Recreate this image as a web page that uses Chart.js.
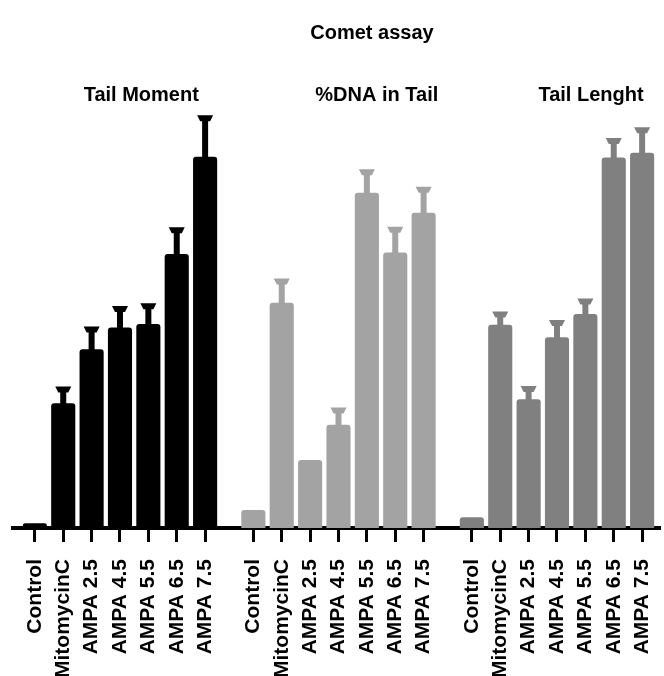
<!DOCTYPE html>
<html>
<head>
<meta charset="utf-8">
<script src="https://cdn.jsdelivr.net/npm/chart.js@4.4.1/dist/chart.umd.min.js"></script>
<style>
  html, body { margin: 0; padding: 0; background: #fff; }
  #wrap { width: 664px; height: 676px; }
</style>
</head>
<body>
<div id="wrap"><canvas id="myChart"></canvas></div>
<script>
const mainTitle = 'Comet assay';
const groupNames = ['Tail Moment', '%DNA in Tail', 'Tail Lenght'];
const treatments = ['Control', 'MitomycinC', 'AMPA 2.5', 'AMPA 4.5', 'AMPA 5.5', 'AMPA 6.5', 'AMPA 7.5'];

const tailMoment    = [1.2, 31.2, 44.7, 50.1, 51.0, 68.5, 92.8];
const tailMomentErr = [0, 4.2, 5.7, 5.4, 5.2, 6.7, 10.4];
const dnaInTail     = [4.5, 56.3, 17.0, 25.8, 83.8, 68.9, 78.8];
const dnaInTailErr  = [0, 6.1, 0, 4.3, 5.9, 6.4, 6.5];
const tailLength    = [2.7, 50.8, 32.2, 47.7, 53.5, 92.6, 93.8];
const tailLengthErr = [0, 3.3, 3.3, 4.3, 3.9, 4.9, 6.4];

const colors = ['#000000', '#a3a3a3', '#808080'];

// groups sit on one linear axis, a little gap between them
const groupStride = 7.7;
const xPos = (g, i) => g * groupStride + i;
const positions = [];
const tickLabels = [];
for (let g = 0; g < 3; g++) {
  treatments.forEach((t, i) => { positions.push(xPos(g, i)); tickLabels.push(t); });
}

function makeSet(g, values, errors) {
  return {
    label: groupNames[g],
    data: values.map((v, i) => ({ x: xPos(g, i), y: v })),
    errors: errors,
    backgroundColor: colors[g],
    borderRadius: 3,
    borderSkipped: 'start'
  };
}

const errorBars = {
  id: 'errorBars',
  afterDatasetsDraw(chart) {
    const ctx = chart.ctx;
    const y = chart.scales.y;
    chart.data.datasets.forEach((ds, d) => {
      chart.getDatasetMeta(d).data.forEach((bar, i) => {
        const err = ds.errors[i];
        if (!err) return;
        const top = y.getPixelForValue(ds.data[i].y + err);
        ctx.save();
        ctx.fillStyle = ds.backgroundColor;
        ctx.fillRect(bar.x - 3, top + 3, 6, bar.y - top - 2);
        ctx.beginPath();
        ctx.moveTo(bar.x - 8, top);
        ctx.lineTo(bar.x + 8, top);
        ctx.lineTo(bar.x + 5, top + 6);
        ctx.lineTo(bar.x - 5, top + 6);
        ctx.closePath();
        ctx.fill();
        ctx.restore();
      });
    });
  }
};

const titles = {
  id: 'titles',
  afterDraw(chart) {
    const ctx = chart.ctx;
    const x = chart.scales.x;
    ctx.save();
    ctx.fillStyle = '#000';
    ctx.textAlign = 'center';
    ctx.textBaseline = 'middle';
    ctx.font = 'bold 20px "Liberation Sans", Arial, sans-serif';
    ctx.fillText(mainTitle, 372, 33);
    const anchors = [3.75, 12.05, 19.6];
    groupNames.forEach((name, g) => {
      ctx.fillText(name, x.getPixelForValue(anchors[g]), 95);
    });
    ctx.restore();
  }
};

const ctx = document.getElementById('myChart').getContext('2d');

var myChart = new Chart(ctx, {
  type: 'bar',
  data: {
    datasets: [
      makeSet(0, tailMoment, tailMomentErr),
      makeSet(1, dnaInTail, dnaInTailErr),
      makeSet(2, tailLength, tailLengthErr)
    ]
  },
  options: {
    responsive: true,
    maintainAspectRatio: false,
    animation: false,
    datasets: { bar: { grouped: false, barPercentage: 0.85, categoryPercentage: 1 } },
    layout: { padding: { top: 108, left: 13, right: 4, bottom: 0 } },
    plugins: { legend: { display: false }, tooltip: { enabled: false }, title: { display: false } },
    scales: {
      x: {
        type: 'linear',
        min: -0.77,
        max: 2 * groupStride + 6.63,
        offset: false,
        afterBuildTicks: s => { s.ticks = positions.map(v => ({ value: v })); },
        afterFit: s => { s.height = 148; s.paddingLeft = 0; s.paddingRight = 0; },
        grid: { display: true, drawOnChartArea: false, drawTicks: true, tickLength: 14, tickWidth: 3, tickColor: '#000', offset: false },
        border: { display: true, color: '#000', width: 4 },
        ticks: {
          autoSkip: false,
          maxRotation: 90,
          minRotation: 90,
          padding: 17,
          color: '#000',
          font: { family: '"Liberation Sans", Arial, sans-serif', size: 21, weight: 'bold' },
          callback: (v, i) => tickLabels[i]
        }
      },
      y: { display: false, min: 0, max: 105 }
    }
  },
  plugins: [errorBars, titles]
});
</script>
</body>
</html>
